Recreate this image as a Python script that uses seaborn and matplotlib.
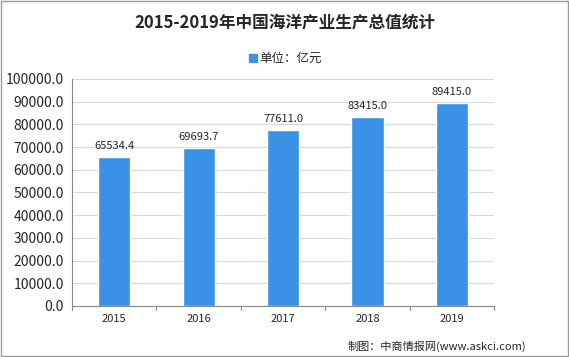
import pandas as pd
import seaborn as sns
import matplotlib.pyplot as plt
from matplotlib.patches import Rectangle

years = ['2015', '2016', '2017', '2018', '2019']
values = [65534.4, 69693.7, 77611.0, 83415.0, 89415.0]
yticks = [0, 10000, 20000, 30000, 40000, 50000, 60000, 70000, 80000, 90000, 100000]

sns.set_style('white')
plt.rcParams['font.family'] = ['Noto Sans CJK SC', 'DejaVu Sans']

df = pd.DataFrame({'year': years, 'value': values})

fig = plt.figure(figsize=(5.69, 3.57), dpi=100)
ax = fig.add_axes([0.1265, 0.143, 0.742, 0.636])
sns.barplot(data=df, x='year', y='value', color='#3a92e6', saturation=1, width=0.38, ax=ax)

ax.set_ylim(0, 100000)
ax.set_xlim(-0.5, 4.5)
ax.set_yticks(yticks)
ax.set_yticklabels([f'{v:.1f}' for v in yticks], fontsize=10)
ax.tick_params(axis='x', length=0, labelsize=8, pad=6)
ax.tick_params(axis='y', length=4, color='#888888', width=0.8, pad=2)
ax.set_xlabel('')
ax.set_ylabel('')
ax.yaxis.grid(True, color='#d9d9d9', linewidth=0.8)
ax.set_axisbelow(True)
for s in ['top', 'right']:
    ax.spines[s].set_visible(False)
for s in ['left', 'bottom']:
    ax.spines[s].set_color('#888888')
    ax.spines[s].set_linewidth(0.8)

# category boundary ticks on x axis
for b in [-0.5, 0.5, 1.5, 2.5, 3.5, 4.5]:
    ax.plot([b, b], [0, -2000], color='#888888', lw=0.8, clip_on=False)

for i, v in enumerate(values):
    ax.text(i, v + 2500, f'{v:.1f}', ha='center', va='bottom', fontsize=8)

fig.text(0.5, 0.935, '2015-2019年中国海洋产业生产总值统计', ha='center', va='center',
         fontsize=12, fontweight='bold')
fig.patches.append(Rectangle((0.437, 0.825), 0.014, 0.024, transform=fig.transFigure,
                             color='#3a92e6'))
fig.text(0.455, 0.838, '单位：亿元', ha='left', va='center', fontsize=9)
fig.text(0.925, 0.03, '制图：中商情报网(www.askci.com)', ha='right', va='center', fontsize=8)

fig.patches.append(Rectangle((0.002, 0.003), 0.996, 0.994, transform=fig.transFigure,
                             fill=False, edgecolor='#999999', lw=1))

fig.savefig('out.png', dpi=100)
